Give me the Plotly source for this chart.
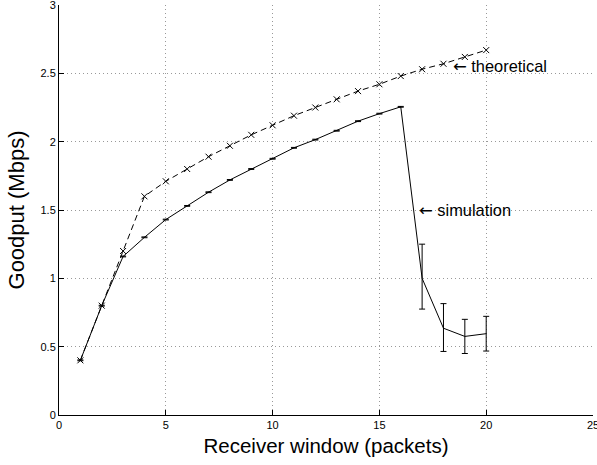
import plotly.graph_objects as go

window = list(range(1, 21))
theoretical = [0.40, 0.80, 1.20, 1.60, 1.71, 1.80, 1.89, 1.97, 2.05, 2.12,
               2.19, 2.25, 2.31, 2.37, 2.42, 2.48, 2.53, 2.57, 2.62, 2.67]
sim_window = list(range(1, 21))
simulation = [0.40, 0.80, 1.16, 1.30, 1.43, 1.53, 1.63, 1.72, 1.80, 1.875,
              1.955, 2.015, 2.08, 2.15, 2.205, 2.255, 1.00, 0.635, 0.575, 0.595]
err_plus = [0.003, 0.003, 0.003, 0.003, 0.003, 0.003, 0.003, 0.003, 0.003, 0.003,
            0.003, 0.003, 0.003, 0.003, 0.003, 0.003, 0.25, 0.18, 0.125, 0.127]
err_minus = [0.003, 0.003, 0.003, 0.003, 0.003, 0.003, 0.003, 0.003, 0.003, 0.003,
             0.003, 0.003, 0.003, 0.003, 0.003, 0.003, 0.225, 0.17, 0.125, 0.127]

FONT = "Liberation Sans, Arial, Helvetica, sans-serif"
ARROW = '<span style="font-family:DejaVu Sans">←</span> '

fig = go.Figure()
fig.add_trace(go.Scatter(
    x=window, y=theoretical, mode="lines+markers",
    line=dict(color="black", width=1, dash="6px,4px"),
    marker=dict(symbol="x-thin", size=6, line=dict(color="black", width=1), color="black"),
    showlegend=False, name="theoretical", cliponaxis=False))
fig.add_trace(go.Scatter(
    x=sim_window, y=simulation, mode="lines",
    line=dict(color="black", width=1),
    error_y=dict(type="data", symmetric=False, array=err_plus, arrayminus=err_minus,
                 color="black", thickness=1, width=3),
    showlegend=False, name="simulation", cliponaxis=False))

fig.add_annotation(x=18.35, y=2.55, xref="x", yref="y", text=ARROW + "theoretical",
                   showarrow=False, xanchor="left", yanchor="middle",
                   font=dict(family=FONT, size=16.4, color="black"))
fig.add_annotation(x=16.75, y=1.495, xref="x", yref="y", text=ARROW + "simulation",
                   showarrow=False, xanchor="left", yanchor="middle",
                   font=dict(family=FONT, size=16.4, color="black"))

axis_common = dict(
    showgrid=True, gridcolor="#999999", griddash="1px,3px", gridwidth=1,
    zeroline=False, showline=True, linecolor="black", linewidth=1,
    ticks="inside", ticklen=5, tickcolor="black", automargin=False,
    ticklabeloverflow="allow",
    tickfont=dict(family=FONT, size=11, color="black"),
)
fig.update_xaxes(range=[0, 25], tickvals=[0, 5, 10, 15, 20, 25],
                 title=dict(text="Receiver window (packets)", font=dict(family=FONT, size=20.5, color="black"), standoff=8),
                 **axis_common)
fig.update_yaxes(range=[0, 3], tickvals=[0, 0.5, 1, 1.5, 2, 2.5, 3],
                 ticktext=["0", "0.5", "1", "1.5", "2", "2.5", "3"],
                 title=dict(text="Goodput (Mbps)", font=dict(family=FONT, size=22, color="black"), standoff=9),
                 **axis_common)

fig.update_layout(
    width=597, height=465,
    margin=dict(l=59, r=4, t=5, b=50),
    plot_bgcolor="white", paper_bgcolor="white",
    font=dict(family=FONT, color="black"),
)

fig.write_html("out.html", config={"displayModeBar": False},
               post_script="document.body.style.margin='0';document.body.style.overflow='hidden';")
